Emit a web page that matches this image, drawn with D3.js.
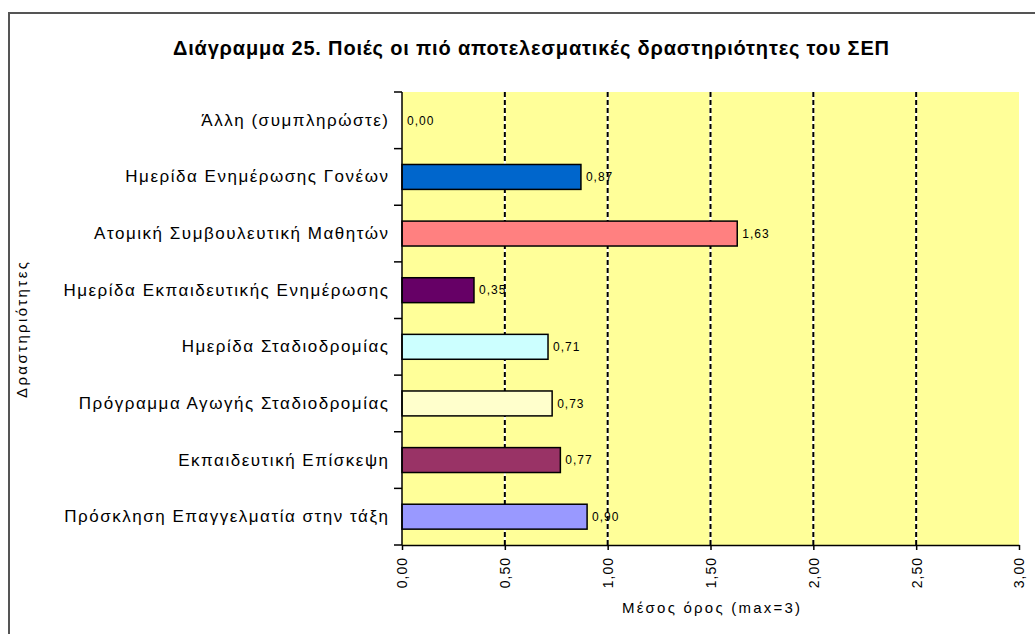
<!DOCTYPE html>
<html>
<head>
<meta charset="utf-8">
<script src="https://cdn.jsdelivr.net/npm/d3@7"></script>
<style>
  html, body { margin: 0; padding: 0; background: #ffffff; }
  svg { display: block; font-family: "Liberation Sans", Arial, sans-serif; }
</style>
</head>
<body>
<svg id="chart" width="1035" height="634"></svg>
<script>
// ---- data ----
const titleText = "Διάγραμμα 25. Ποιές οι πιό αποτελεσματικές δραστηριότητες του ΣΕΠ";
const categories = [
  "Άλλη (συμπληρώστε)",
  "Ημερίδα Ενημέρωσης Γονέων",
  "Ατομική Συμβουλευτική Μαθητών",
  "Ημερίδα Εκπαιδευτικής Ενημέρωσης",
  "Ημερίδα Σταδιοδρομίας",
  "Πρόγραμμα Αγωγής Σταδιοδρομίας",
  "Εκπαιδευτική Επίσκεψη",
  "Πρόσκληση Επαγγελματία στην τάξη"
];
const values = [0.00, 0.87, 1.63, 0.35, 0.71, 0.73, 0.77, 0.90];
const barColors = ["#C0C0C0", "#0066CC", "#FF8080", "#660066", "#CCFFFF", "#FFFFCC", "#993366", "#9999FF"];
const xTicks = [0, 0.5, 1.0, 1.5, 2.0, 2.5, 3.0];
const gridTicks = [0.5, 1.0, 1.5, 2.0, 2.5];
const xTitle = "Μέσος όρος (max=3)";
const yTitle = "Δραστηριότητες";

// ---- layout ----
const svg = d3.select("#chart");
const plot = { left: 402, right: 1019, top: 92, bottom: 545 };
const loc = d3.formatLocale({ decimal: ",", thousands: ".", grouping: [3], currency: ["", "€"] });
const fmt = loc.format(".2f");

const x = d3.scaleLinear().domain([0, 3]).range([plot.left, plot.right]);
const y = d3.scaleBand().domain(categories).range([plot.top, plot.bottom])
  .paddingInner(0.56).paddingOuter(0.28);

// outer frame
svg.append("rect").attr("x", 9).attr("y", 13).attr("width", 1040).attr("height", 640)
  .attr("fill", "#ffffff").attr("stroke", "#555555").attr("stroke-width", 2);

// title
svg.append("text").attr("x", 531).attr("y", 55).attr("text-anchor", "middle")
  .attr("font-size", 20).attr("font-weight", "bold").attr("fill", "#000")
  .attr("textLength", 716).attr("lengthAdjust", "spacing")
  .text(titleText);

// plot background
svg.append("rect").attr("x", plot.left).attr("y", plot.top)
  .attr("width", plot.right - plot.left).attr("height", plot.bottom - plot.top)
  .attr("fill", "#FFFF99");

// gridlines (white under black dashes)
const grid = svg.append("g");
grid.selectAll("line.gw").data(gridTicks).join("line").attr("class", "gw")
  .attr("x1", d => x(d)).attr("x2", d => x(d)).attr("y1", plot.top).attr("y2", plot.bottom)
  .attr("stroke", "#ffffff").attr("stroke-width", 2);
grid.selectAll("line.gb").data(gridTicks).join("line").attr("class", "gb")
  .attr("x1", d => x(d)).attr("x2", d => x(d)).attr("y1", plot.top).attr("y2", plot.bottom)
  .attr("stroke", "#000000").attr("stroke-width", 2).attr("stroke-dasharray", "5,3");

// bars
svg.append("g").selectAll("rect").data(categories.map((c, i) => ({ c, v: values[i], col: barColors[i] })))
  .join("rect")
  .filter(d => d.v > 0)
  .attr("x", x(0)).attr("y", d => y(d.c))
  .attr("width", d => x(d.v) - x(0)).attr("height", y.bandwidth())
  .attr("fill", d => d.col).attr("stroke", "#000").attr("stroke-width", 1.5);

// value labels
svg.append("g").selectAll("text").data(categories.map((c, i) => ({ c, v: values[i] })))
  .join("text")
  .attr("x", d => x(d.v) + 5).attr("y", d => y(d.c) + y.bandwidth() / 2)
  .attr("dy", "0.35em").attr("font-size", 12).attr("letter-spacing", 1).attr("fill", "#000")
  .text(d => fmt(d.v));

// y axis (labels)
const yAxisG = svg.append("g").attr("transform", `translate(${plot.left},0)`)
  .call(d3.axisLeft(y).tickSize(0).tickPadding(14));
yAxisG.select(".domain").remove();
yAxisG.selectAll("text").attr("font-size", 17).attr("fill", "#000")
  .attr("font-family", "\"Liberation Sans\", Arial, sans-serif");
// fit letter spacing so the longest label spans ~326px
let maxW = 0, maxN = 1;
yAxisG.selectAll("text").each(function () {
  const w = this.getComputedTextLength();
  if (w > maxW) { maxW = w; maxN = this.textContent.length; }
});
const ls = (326 - maxW) / maxN;
yAxisG.selectAll("text").attr("letter-spacing", ls.toFixed(2)).attr("dx", ls.toFixed(2));

// y axis line and boundary ticks
const step = y.step();
const bounds = d3.range(categories.length + 1).map(i => plot.top + i * step);
svg.append("line").attr("x1", plot.left).attr("x2", plot.left)
  .attr("y1", plot.top).attr("y2", plot.bottom).attr("stroke", "#000").attr("stroke-width", 1.5);
svg.append("g").selectAll("line").data(bounds).join("line")
  .attr("x1", plot.left - 8).attr("x2", plot.left).attr("y1", d => d).attr("y2", d => d)
  .attr("stroke", "#000").attr("stroke-width", 1.5);

// x axis
const xAxisG = svg.append("g").attr("transform", `translate(0,${plot.bottom})`)
  .call(d3.axisBottom(x).tickValues(xTicks).tickFormat(fmt).tickSize(5).tickSizeOuter(0));
xAxisG.select(".domain").attr("stroke", "#000").attr("stroke-width", 1.5);
xAxisG.selectAll(".tick line").attr("stroke", "#000").attr("stroke-width", 1.5);
xAxisG.selectAll(".tick text")
  .attr("font-size", 14).attr("letter-spacing", 1).attr("fill", "#000")
  .attr("text-anchor", "end")
  .attr("transform", "translate(0,12) rotate(-90)")
  .attr("x", 0).attr("y", 0).attr("dy", "0.35em");

// axis titles
svg.append("text").attr("x", 711).attr("y", 613).attr("text-anchor", "middle")
  .attr("font-size", 15).attr("fill", "#000")
  .attr("textLength", 178).attr("lengthAdjust", "spacing").text(xTitle);
svg.append("text").attr("transform", "translate(27,330) rotate(-90)").attr("text-anchor", "middle")
  .attr("font-size", 15).attr("fill", "#000")
  .attr("textLength", 136).attr("lengthAdjust", "spacing").text(yTitle);
</script>
</body>
</html>
